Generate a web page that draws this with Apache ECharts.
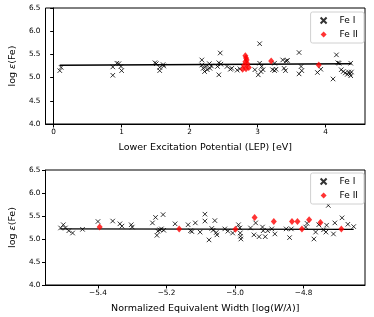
<!DOCTYPE html>
<html><head><meta charset="utf-8">
<script src="https://cdn.jsdelivr.net/npm/echarts@6/dist/echarts.min.js"></script>
<style>html,body{margin:0;padding:0;background:#fff}#c{width:374px;height:317px}</style>
</head><body><div id="c"></div>
<script>
// ---- Top panel: abundance vs LEP ----
const lepFeI = [
 [0.09,5.15],[0.11,5.22],[0.87,5.23],[0.87,5.05],[0.93,5.31],[0.96,5.30],[0.99,5.24],[1.00,5.15],
 [1.49,5.32],[1.51,5.30],[1.56,5.22],[1.56,5.15],[1.61,5.28],[1.62,5.25],
 [2.18,5.38],[2.18,5.27],[2.20,5.20],[2.22,5.13],[2.24,5.24],[2.26,5.17],[2.29,5.30],[2.30,5.20],[2.32,5.25],
 [2.41,5.24],[2.43,5.32],[2.45,5.53],[2.43,5.06],[2.46,5.29],[2.55,5.24],[2.60,5.18],[2.62,5.20],
 [2.70,5.16],[2.74,5.19],[2.96,5.17],[3.01,5.06],[3.03,5.73],[3.03,5.31],[3.05,5.13],[3.06,5.24],[3.08,5.17],
 [3.22,5.17],[3.25,5.15],[3.27,5.18],[3.25,5.31],[3.37,5.38],[3.39,5.20],[3.42,5.36],[3.44,5.37],[3.41,5.15],
 [3.61,5.54],[3.61,5.08],[3.64,5.24],[3.65,5.15],[3.88,5.11],[3.93,5.18],
 [4.11,4.97],[4.16,5.49],[4.18,5.32],[4.20,5.31],[4.23,5.17],[4.26,5.13],[4.29,5.10],[4.32,5.07],
 [4.34,5.12],[4.37,5.31],[4.36,5.08],[4.37,5.04],[4.38,5.12]
];
const lepFeII = [
 [2.82,5.47],[2.83,5.42],[2.84,5.38],[2.82,5.34],[2.85,5.30],[2.80,5.26],[2.87,5.22],[2.83,5.19],[2.78,5.18],
 [3.20,5.36],[3.90,5.27]
];
const lepFit = [[0.09,5.265],[4.38,5.30]];
const lepTicks = [0,1,2,3,4];

// ---- Bottom panel: abundance vs reduced EW ----
const ewFeI = [
 [-5.509,5.24],[-5.501,5.31],[-5.495,5.24],[-5.485,5.18],[-5.474,5.13],[-5.445,5.21],[-5.400,5.38],
 [-5.357,5.39],[-5.336,5.33],[-5.330,5.28],[-5.303,5.31],[-5.300,5.26],
 [-5.241,5.35],[-5.232,5.47],[-5.225,5.17],[-5.228,5.08],[-5.220,5.20],[-5.210,5.53],[-5.215,5.22],[-5.208,5.19],
 [-5.175,5.33],[-5.137,5.31],[-5.130,5.18],[-5.126,5.16],[-5.116,5.35],[-5.102,5.15],
 [-5.088,5.54],[-5.088,5.39],[-5.076,4.98],[-5.068,5.23],[-5.064,5.19],[-5.059,5.40],[-5.055,5.14],[-5.053,5.09],
 [-5.030,5.22],[-5.021,5.17],[-5.007,5.13],[-4.990,5.31],[-4.986,5.24],[-4.985,5.13],[-4.984,5.06],[-4.983,5.00],
 [-4.955,5.24],[-4.945,5.09],[-4.940,5.35],[-4.930,5.05],[-4.920,5.26],[-4.918,5.18],[-4.912,5.05],[-4.905,5.18],
 [-4.893,5.22],[-4.884,5.11],[-4.851,5.22],[-4.841,5.03],[-4.836,5.22],
 [-4.794,5.26],[-4.790,5.34],[-4.770,5.00],[-4.765,5.15],[-4.756,5.31],[-4.742,5.20],[-4.735,5.15],[-4.733,5.30],
 [-4.728,5.73],[-4.713,5.11],[-4.709,5.35],[-4.688,5.46],[-4.671,5.32],[-4.654,5.27]
];
const ewFeII = [
 [-5.395,5.26],[-5.163,5.22],[-4.999,5.21],[-4.943,5.47],[-4.887,5.38],[-4.834,5.38],
 [-4.818,5.38],[-4.805,5.22],[-4.784,5.42],[-4.751,5.36],[-4.690,5.22]
];
const ewFit = [[-5.51,5.22],[-4.654,5.21]];
const ewTicks = [-5.4,-5.2,-5.0,-4.8];

const yTicksMin = 4.0, yTicksMax = 6.5, yStep = 0.5;

const FONT = 'DejaVu Sans';
const xSym = 'path://M0,0L10,10M10,0L0,10';
const feIStyle = {color:'rgba(0,0,0,0)', borderColor:'#000', borderWidth:1};
const feIIStyle = {color:'#ff0000'};

function yAxis(gi){
  return {gridIndex:gi, type:'value', min:yTicksMin, max:yTicksMax, interval:yStep,
    name:'{n|log }{i|ε}{n|(Fe)}', nameLocation:'middle', nameGap:20, nameRotate:90,
    nameTextStyle:{rich:{n:{fontFamily:FONT,fontSize:9.5,color:'#000'},i:{fontFamily:FONT,fontSize:9.5,fontStyle:'italic',color:'#000'}}},
    axisLine:{show:true,lineStyle:{color:'#000',width:1}},
    axisTick:{show:true,inside:false,length:3.5,lineStyle:{color:'#000'}},
    axisLabel:{fontFamily:FONT,fontSize:7.3,color:'#000',margin:5,formatter:v=>v.toFixed(1)},
    splitLine:{show:false}};
}
const commonX = {
  axisLine:{show:true,onZero:false,lineStyle:{color:'#000',width:1}},
  axisTick:{show:true,inside:false,length:3.5,lineStyle:{color:'#000'}},
  splitLine:{show:false}
};
function legend(top){
  return {top:top, right:10, orient:'vertical', data:[{name:'Fe I',icon:xSym},{name:'Fe II',icon:'diamond'}],
    backgroundColor:'#fff', borderColor:'#d0d0d0', borderWidth:1, borderRadius:2,
    padding:[4,6,4,9], itemWidth:6, itemHeight:6, itemGap:5,
    textStyle:{fontFamily:FONT,fontSize:9,color:'#000',padding:[0,0,0,8]}};
}

const chart = echarts.init(document.getElementById('c'), null, {renderer:'canvas'});
chart.setOption({
  animation:false,
  backgroundColor:'#fff',
  grid:[
    {left:36, top:8, width:329, height:116, show:true, borderColor:'#000', borderWidth:1, backgroundColor:'rgba(0,0,0,0)'},
    {left:36, top:170, width:329, height:115, show:true, borderColor:'#000', borderWidth:1, backgroundColor:'rgba(0,0,0,0)'}
  ],
  legend:[legend(12), legend(173)],
  xAxis:[
    Object.assign({gridIndex:0, type:'value', min:-0.12, max:4.58,
      name:'Lower Excitation Potential (LEP) [eV]', nameLocation:'middle', nameGap:19,
      nameTextStyle:{fontFamily:FONT,fontSize:9.5,color:'#000'},
      axisLabel:{fontFamily:FONT,fontSize:7.3,color:'#000',margin:5,customValues:lepTicks,formatter:v=>String(v)}
    }, commonX, {axisTick:Object.assign({}, commonX.axisTick, {customValues:lepTicks})}),
    Object.assign({gridIndex:1, type:'value', min:-5.553, max:-4.621,
      name:'{n|Normalized Equivalent Width [log(}{i|W}{n|/}{i|λ}{n|)]}', nameLocation:'middle', nameGap:19,
      nameTextStyle:{rich:{n:{fontFamily:FONT,fontSize:9.5,color:'#000'},i:{fontFamily:FONT,fontSize:9.5,fontStyle:'italic',color:'#000'}}},
      axisLabel:{fontFamily:FONT,fontSize:7.3,color:'#000',margin:5,customValues:ewTicks,formatter:v=>v.toFixed(1).replace('-','\u2212')}
    }, commonX, {axisTick:Object.assign({}, commonX.axisTick, {customValues:ewTicks})})
  ],
  yAxis:[yAxis(0), yAxis(1)],
  series:[
    {type:'line', xAxisIndex:0, yAxisIndex:0, data:lepFit, symbol:'none', lineStyle:{color:'#000',width:1.4}, z:1},
    {type:'line', xAxisIndex:1, yAxisIndex:1, data:ewFit, symbol:'none', lineStyle:{color:'#000',width:1.4}, z:1},
    {name:'Fe I', type:'scatter', xAxisIndex:0, yAxisIndex:0, data:lepFeI, symbol:xSym, symbolSize:4.5, itemStyle:feIStyle, z:2},
    {name:'Fe II', type:'scatter', xAxisIndex:0, yAxisIndex:0, data:lepFeII, symbol:'diamond', symbolSize:[6,7], itemStyle:feIIStyle, z:3},
    {name:'Fe I', type:'scatter', xAxisIndex:1, yAxisIndex:1, data:ewFeI, symbol:xSym, symbolSize:4.5, itemStyle:feIStyle, z:2},
    {name:'Fe II', type:'scatter', xAxisIndex:1, yAxisIndex:1, data:ewFeII, symbol:'diamond', symbolSize:[6,7], itemStyle:feIIStyle, z:3}
  ]
});
</script></body></html>
